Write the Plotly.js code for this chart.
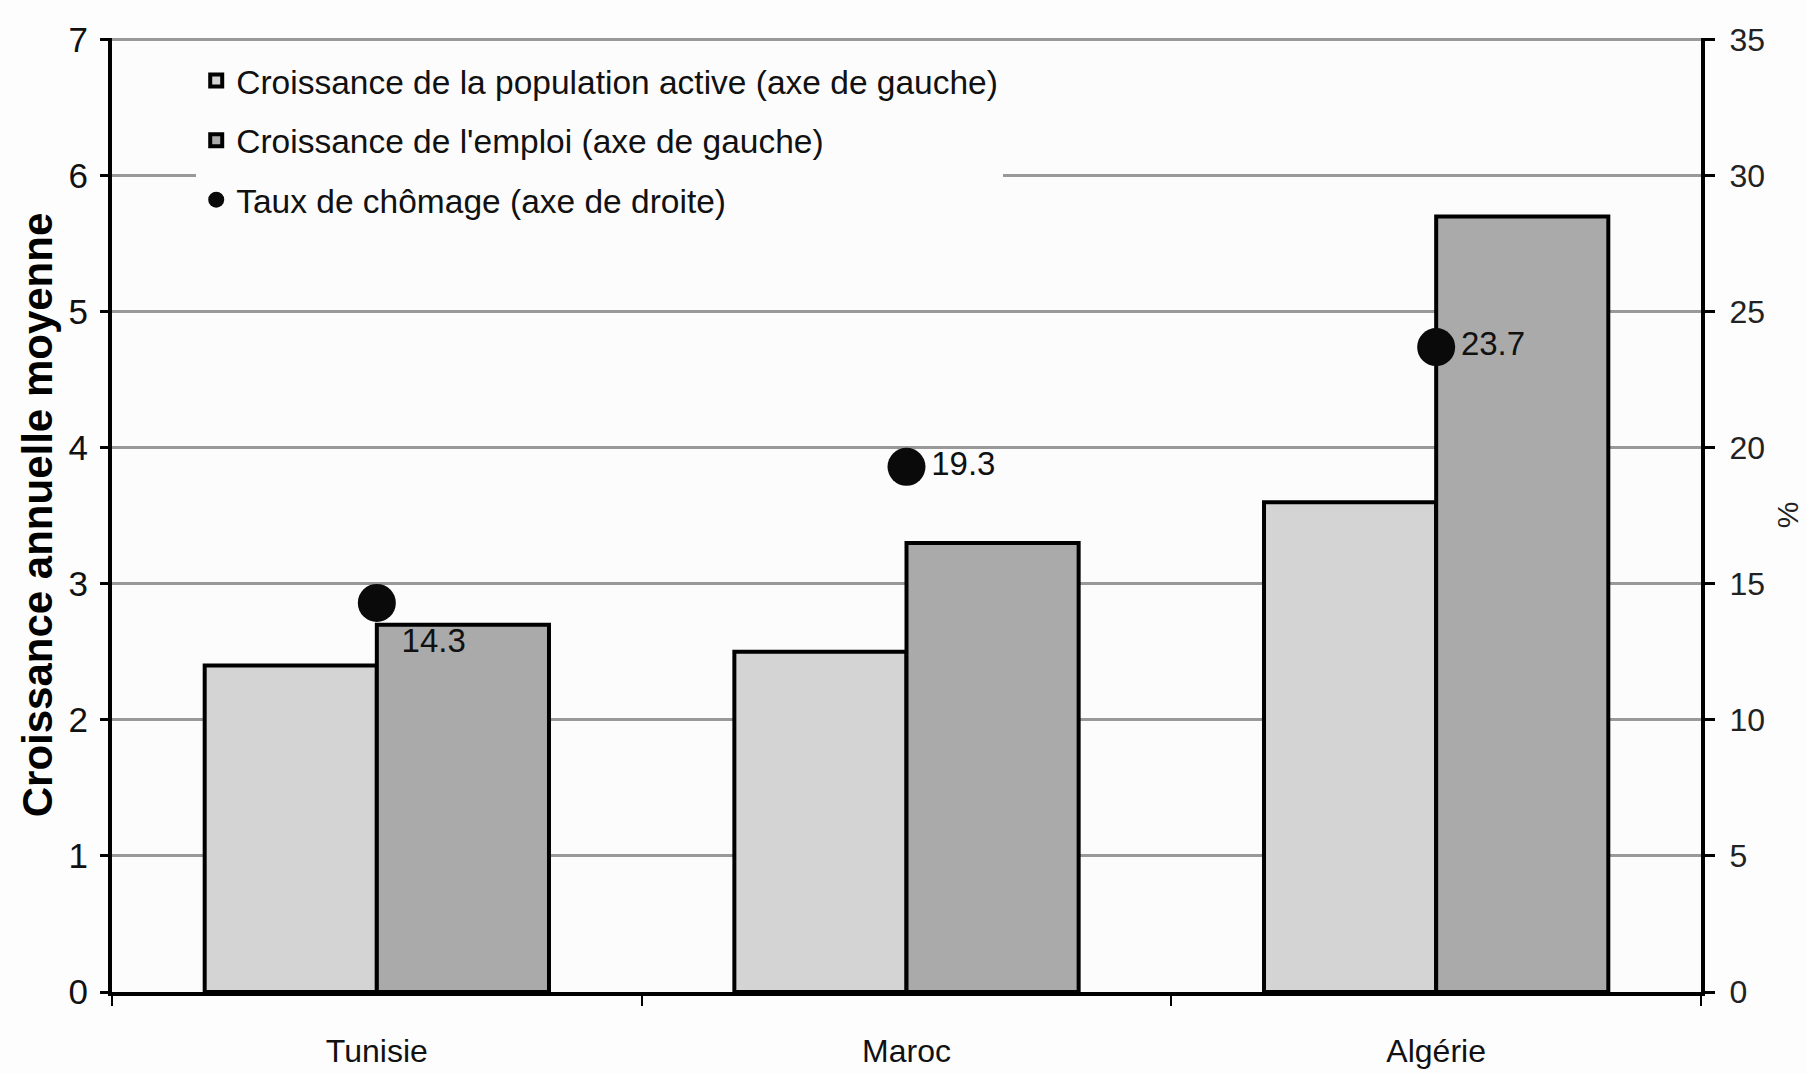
<!DOCTYPE html>
<html>
<head>
<meta charset="utf-8">
<script src="https://cdn.plot.ly/plotly-3.0.1.min.js"></script>
<style>
  html, body { margin: 0; padding: 0; background: #fdfdfd; }
  #chart { width: 1806px; height: 1074px; }
</style>
</head>
<body>
<div id="chart"></div>
<script>
// ---- data ----
const categories = ['Tunisie', 'Maroc', 'Algérie'];
const populationActive = [2.4, 2.5, 3.6];   // left axis
const emploi = [2.7, 3.3, 5.7];             // left axis
const chomage = [14.3, 19.3, 23.7];         // right axis (%)
const seriesNames = [
  'Croissance de la population active (axe de gauche)',
  'Croissance de l\'emploi (axe de gauche)',
  'Taux de chômage (axe de droite)'
];
const leftTitle = 'Croissance annuelle moyenne';
const rightTitle = '%';
const leftTicks = [0, 1, 2, 3, 4, 5, 6, 7];
const rightTicks = [0, 5, 10, 15, 20, 25, 30, 35];

const ARIAL = '"Liberation Sans", Arial, sans-serif';

const traces = [
  {
    type: 'bar', name: seriesNames[0], legendgroup: 'a',
    x: categories, y: populationActive,
    marker: { color: '#d4d4d4', line: { color: '#000', width: 4 } },
    hoverinfo: 'x+y'
  },
  {
    type: 'bar', name: seriesNames[1], legendgroup: 'b',
    x: categories, y: emploi,
    marker: { color: '#aaaaaa', line: { color: '#000', width: 4 } },
    hoverinfo: 'x+y'
  },
  {
    type: 'scatter', name: seriesNames[2], legendgroup: 'c',
    x: categories, y: chomage, yaxis: 'y2',
    mode: 'markers+text',
    text: chomage.map(v => v.toFixed(1)),
    textposition: ['bottom right', 'middle right', 'middle right'],
    textfont: { family: ARIAL, size: 33, color: '#111' },
    marker: { color: '#0a0a0a', size: 38, symbol: 'circle' },
    cliponaxis: false
  }
];

const layout = {
  width: 1806, height: 1074,
  paper_bgcolor: '#fdfdfd',
  plot_bgcolor: '#fcfcfc',
  margin: { l: 112, r: 105, t: 38, b: 82 },
  barmode: 'group',
  bargap: 0.35,
  bargroupgap: 0,
  font: { family: ARIAL, size: 33, color: '#000' },
  showlegend: true,
  legend: {
    x: 0.053, y: 0.985, xanchor: 'left', yanchor: 'top',
    bgcolor: '#fcfcfc',
    font: { family: ARIAL, size: 33.5, color: '#111' },
    tracegroupgap: 13,
    traceorder: 'grouped',
    itemwidth: 30
  },
  xaxis: {
    type: 'category',
    showline: true, linecolor: '#000', linewidth: 4,
    ticks: 'outside', tickson: 'boundaries', ticklen: 10, tickwidth: 2, tickcolor: '#000',
    tickfont: { family: ARIAL, size: 32, color: '#111' },
    ticklabelstandoff: 28,
    showgrid: false, zeroline: false
  },
  yaxis: {
    range: [0, 7.012], tickvals: leftTicks,
    showline: true, linecolor: '#000', linewidth: 4,
    ticks: 'outside', ticklen: 8, tickwidth: 3, tickcolor: '#000',
    tickfont: { family: ARIAL, size: 35, color: '#111' },
    ticklabelstandoff: 5,
    showgrid: true, gridcolor: '#999999', gridwidth: 3,
    zeroline: false,
    title: { text: leftTitle, font: { family: ARIAL, size: 42, color: '#000', weight: 'bold' }, standoff: 4 }
  },
  yaxis2: {
    range: [0, 35.06], tickvals: rightTicks,
    overlaying: 'y', side: 'right',
    showline: true, linecolor: '#000', linewidth: 4,
    ticks: 'outside', ticklen: 10, tickwidth: 3, tickcolor: '#000',
    tickfont: { family: ARIAL, size: 32, color: '#222' },
    ticklabelstandoff: 8,
    showgrid: false, zeroline: false,
    title: { text: rightTitle, font: { family: ARIAL, size: 30, color: '#222' }, standoff: 14 }
  }
};

Plotly.newPlot('chart', traces, layout, { displayModeBar: false, staticPlot: true });
</script>
</body>
</html>
